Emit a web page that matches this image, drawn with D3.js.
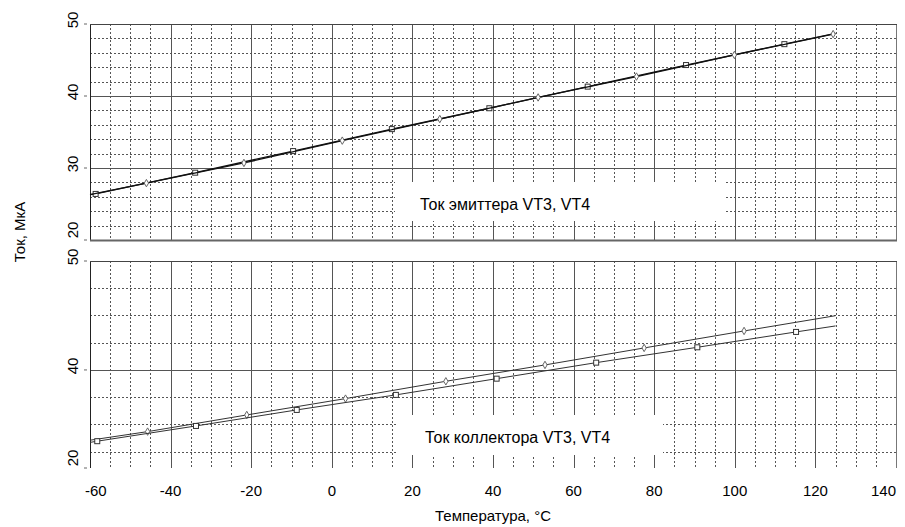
<!DOCTYPE html>
<html>
<head>
<meta charset="utf-8">
<script src="https://cdnjs.cloudflare.com/ajax/libs/d3/7.8.5/d3.min.js"></script>
<style>
    body { margin: 0; background: #fff; }
    text { font-family: "Liberation Sans", Arial, sans-serif; fill: #000; }
</style>
</head>
<body>
<div id="chart"></div>
<script>
// tick labels
var tempTicks = [-60, -40, -20, 0, 20, 40, 60, 80, 100, 120, 140];
var emitterTicks = [50, 40, 30, 20];
var emitterTickLabels = ["50", "40", "30", "20"];
var collectorTicks = [50, 40, 31];
var collectorTickLabels = ["50", "40", "20"];

// верхний график - ток эмиттера
var emitterVT3Temp = [-60, -58.6, -33.9, -9.6, 14.9, 39.1, 63.5, 87.9, 112.3, 125];
var emitterVT3 = [26.3, 26.4, 29.35, 32.35, 35.4, 38.3, 41.3, 44.3, 47.2, 48.7];
var emitterVT4Temp = [-60, -46.0, -21.8, 2.6, 26.8, 51.2, 75.6, 99.9, 124.4];
var emitterVT4 = [26.3, 27.9, 30.7, 33.8, 36.8, 39.8, 42.7, 45.7, 48.6];

// нижний график - ток коллектора
var collectorVT3Temp = [-60, -45.7, -21.1, 3.4, 28.3, 52.9, 77.5, 102.3, 125];
var collectorVT3 = [33.55, 34.34, 35.87, 37.37, 38.96, 40.46, 42.02, 43.58, 44.98];
var collectorVT4Temp = [-60, -58.2, -33.7, -8.7, 15.9, 40.9, 65.6, 90.7, 115.2, 125];
var collectorVT4 = [33.35, 33.46, 34.86, 36.33, 37.71, 39.2, 40.67, 42.08, 43.49, 44.04];

var legendTexts = ["Ток эмиттера VT3, VT4", "Ток коллектора VT3, VT4"];
var xTitle = "Температура, °C";
var yTitle = "Ток, МкА";

var width = 905, height = 527;
var left = 90, right = 896;

var svg = d3.select("#chart").append("svg")
    .attr("width", width)
    .attr("height", height);

var x = d3.scaleLinear().domain([-60, 140]).range([left, right]);
var yTop = d3.scaleLinear().domain([20, 50]).range([240, 24]);
var yBot = d3.scaleLinear().domain([31, 50]).range([468, 261]);

function drawPanel(y, ticks, tickLabels, yMinor, yMajor, series, legend, box, bottomLine) {
    var g = svg.append("g");
    var y0 = y.range()[0], y1 = y.range()[1];

    // сетка: пунктир
    var xMinor = d3.range(-60, 141, 5).filter(d => d % 20 !== 0);
    g.selectAll(".vminor").data(xMinor).enter().append("line")
        .attr("x1", d => Math.round(x(d)) + 0.5).attr("x2", d => Math.round(x(d)) + 0.5)
        .attr("y1", y1).attr("y2", y0)
        .attr("stroke", "#555").attr("stroke-dasharray", "2,2");
    g.selectAll(".hminor").data(yMinor).enter().append("line")
        .attr("x1", left).attr("x2", right)
        .attr("y1", d => Math.round(y(d)) + 0.5).attr("y2", d => Math.round(y(d)) + 0.5)
        .attr("stroke", "#555").attr("stroke-dasharray", "2,2");

    // сетка: сплошные линии
    g.selectAll(".vmajor").data(tempTicks.slice(1, -1)).enter().append("line")
        .attr("x1", d => Math.round(x(d)) + 0.5).attr("x2", d => Math.round(x(d)) + 0.5)
        .attr("y1", y1).attr("y2", y0)
        .attr("stroke", "#555");
    g.selectAll(".hmajor").data(yMajor).enter().append("line")
        .attr("x1", left).attr("x2", right)
        .attr("y1", d => Math.round(y(d)) + 0.5).attr("y2", d => Math.round(y(d)) + 0.5)
        .attr("stroke", "#555");

    // белая подложка под подпись
    g.append("rect")
        .attr("x", box[0]).attr("y", box[1])
        .attr("width", box[2]).attr("height", box[3])
        .attr("fill", "#fff");

    // рамка
    g.append("line").attr("x1", left + 0.5).attr("x2", left + 0.5)
        .attr("y1", y1).attr("y2", y0).attr("stroke", "#222");
    g.append("line").attr("x1", right + 0.5).attr("x2", right + 0.5)
        .attr("y1", y1).attr("y2", y0).attr("stroke", "#777");
    g.append("line").attr("x1", left).attr("x2", right + 1)
        .attr("y1", y1 + 0.5).attr("y2", y1 + 0.5).attr("stroke", "#444");
    if (bottomLine) {
        g.append("line").attr("x1", left).attr("x2", right + 1)
            .attr("y1", y0 + 0.5).attr("y2", y0 + 0.5)
            .attr("stroke", "#666").attr("stroke-width", 2);
    }

    // метки и подписи оси Y
    g.selectAll(".ytick").data(ticks).enter().append("line")
        .attr("x1", left - 6).attr("x2", left - 3)
        .attr("y1", d => y(d)).attr("y2", d => y(d))
        .attr("stroke", "#666");
    g.selectAll(".ylabel").data(ticks).enter().append("text")
        .attr("transform", function (d) {
            var cy = Math.min(y(d) - 4, y0 - 10);
            return "translate(78," + cy + ") rotate(-90)";
        })
        .attr("text-anchor", "middle")
        .style("font-size", "15px")
        .text((d, i) => tickLabels[i]);

    // кривые
    var line = d3.line().x(d => x(d[0])).y(d => y(d[1]));
    series.forEach(function (s) {
        var pts = s.temp.map((t, i) => [t, s.values[i]]);
        g.append("path")
            .attr("d", line(pts))
            .attr("fill", "none")
            .attr("stroke", s.color)
            .attr("stroke-width", s.width);
        var marks = pts.filter(p => p[0] > -60 && p[0] < 125);
        if (s.symbol === "square") {
            g.selectAll(null).data(marks).enter().append("rect")
                .attr("x", d => x(d[0]) - 2.5).attr("y", d => y(d[1]) - 2.5)
                .attr("width", 5).attr("height", 5)
                .attr("fill", "#fff").attr("stroke", "#333");
        } else {
            g.selectAll(null).data(marks).enter().append("path")
                .attr("transform", d => "translate(" + x(d[0]) + "," + y(d[1]) + ")")
                .attr("d", d3.symbol().type(d3.symbolDiamond).size(16))
                .attr("fill", "#fff").attr("stroke", "#666");
        }
    });

    // подпись кривой
    g.append("text")
        .attr("x", box[0] + box[4])
        .attr("y", box[1] + box[5])
        .style("font-size", "16px")
        .text(legend);
}

drawPanel(yTop, emitterTicks, emitterTickLabels,
    d3.range(22, 50, 2).filter(d => d % 10 !== 0), [30, 40],
    [
        { temp: emitterVT3Temp, values: emitterVT3, symbol: "square", color: "#111", width: 1.3 },
        { temp: emitterVT4Temp, values: emitterVT4, symbol: "diamond", color: "#111", width: 1.3 }
    ],
    legendTexts[0], [395, 182, 330, 39, 25, 28], true);

drawPanel(yBot, collectorTicks, collectorTickLabels,
    [32.5, 35, 37.5, 42.5, 45, 47.5], [40],
    [
        { temp: collectorVT3Temp, values: collectorVT3, symbol: "diamond", color: "#333", width: 1 },
        { temp: collectorVT4Temp, values: collectorVT4, symbol: "square", color: "#333", width: 1 }
    ],
    legendTexts[1], [398, 415, 265, 40, 27, 28], false);

// подписи оси X
svg.selectAll(".xlabel").data(tempTicks).enter().append("text")
    .attr("x", (d, i) => i === 0 ? x(d) - 5 : x(d))
    .attr("y", 496)
    .attr("text-anchor", (d, i) => i === 0 ? "start" : (i === tempTicks.length - 1 ? "end" : "middle"))
    .style("font-size", "15px")
    .text(d => d);

// названия осей
svg.append("text")
    .attr("x", (left + right) / 2)
    .attr("y", 521)
    .attr("text-anchor", "middle")
    .style("font-size", "15px")
    .text(xTitle);

svg.append("text")
    .attr("transform", "translate(25,232) rotate(-90)")
    .attr("text-anchor", "middle")
    .style("font-size", "15px")
    .text(yTitle);
</script>
</body>
</html>
